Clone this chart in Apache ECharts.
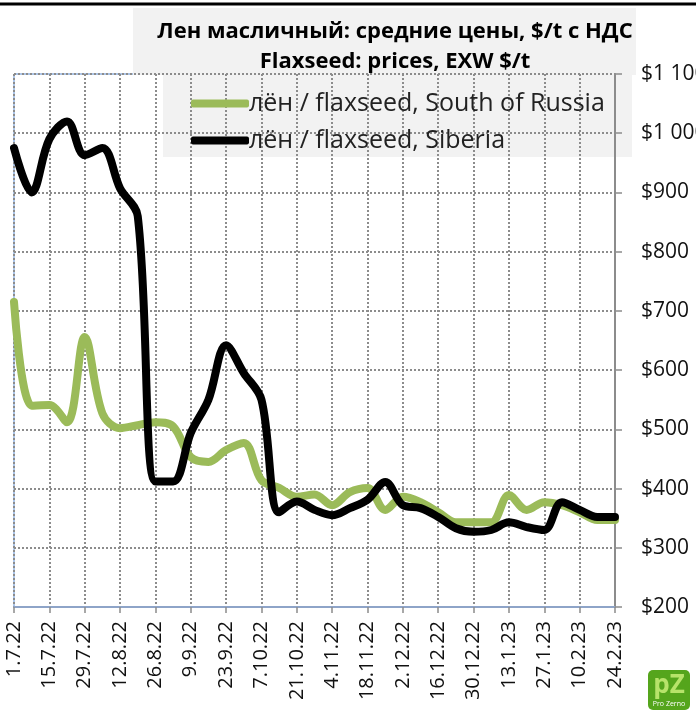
<!DOCTYPE html>
<html>
<head>
<meta charset="utf-8">
<script src="https://cdn.jsdelivr.net/npm/echarts@6/dist/echarts.min.js"></script>
<style>
  html, body { margin: 0; padding: 0; background: #fff; }
  #chart { width: 696px; height: 713px; }
</style>
</head>
<body>
<div id="chart"></div>
<script>
const categories = [
  '1.7.22', '8.7.22', '15.7.22', '22.7.22', '29.7.22', '5.8.22', '12.8.22', '19.8.22',
  '26.8.22', '2.9.22', '9.9.22', '16.9.22', '23.9.22', '30.9.22', '7.10.22', '14.10.22',
  '21.10.22', '28.10.22', '4.11.22', '11.11.22', '18.11.22', '25.11.22', '2.12.22', '9.12.22',
  '16.12.22', '23.12.22', '30.12.22', '6.1.23', '13.1.23', '20.1.23', '27.1.23', '3.2.23',
  '10.2.23', '17.2.23', '24.2.23'
]

const southRussia = [
  715, 540, 541, 512, 656, 527, 502, 507, 512, 505, 453, 445, 465, 477, 414, 401,
  386, 390, 372, 394, 401, 364, 386, 377, 360, 343, 343, 343, 389, 364, 377, 372,
  360, 347, 347
]

const siberia = [
  975, 900, 990, 1020, 963, 975, 907, 860, 412, 412, 494, 550, 642, 595, 550, 360,
  378, 364, 355, 367, 381, 411, 372, 367, 352, 333, 327, 330, 343, 335, 330, 377,
  364, 352, 352
]

const yTicks = { min: 200, max: 1100, step: 100 }

const chart = echarts.init(document.getElementById('chart'))

const formatPrice = (v) => {
  if (v >= 1000) {
    const s = String(v)
    return '$' + s.slice(0, s.length - 3) + ' ' + s.slice(-3)
  }
  return '$' + v
}

const option = {
  animation: false,
  textStyle: { fontFamily: 'Open Sans' },
  graphic: [
    { type: 'line', shape: { x1: 0, y1: 4, x2: 696, y2: 4 }, style: { stroke: '#000', lineWidth: 3 }, z: 0 },
    { type: 'rect', shape: { x: 133, y: 8, width: 503, height: 67 }, style: { fill: '#f2f2f2' }, z: 0 },
    { type: 'rect', shape: { x: 163, y: 75, width: 469, height: 82 }, style: { fill: '#f2f2f2' }, z: 0 },
    {
      type: 'group', left: 648, top: 670, z: 10,
      children: [
        { type: 'rect', shape: { x: 0, y: 0, width: 42, height: 40, r: 5 }, style: { fill: '#55a51c' } },
        { type: 'text', style: { x: 21, y: 16, text: 'pZ', fill: '#b7e36a', font: 'bold 26px "Open Sans"', align: 'center', verticalAlign: 'middle' } },
        { type: 'text', style: { x: 21, y: 34, text: 'Pro Zerno', fill: '#fff', font: '7px "Open Sans"', align: 'center', verticalAlign: 'middle' } }
      ]
    }
  ],
  title: {
    text: 'Лен масличный: средние цены, $/t с НДС\nFlaxseed: prices, EXW $/t',
    left: 390,
    top: 12,
    textAlign: 'center',
    textStyle: {
      fontFamily: 'Open Sans',
      fontSize: 22,
      fontWeight: 'bold',
      color: '#000',
      lineHeight: 30
    }
  },
  legend: {
    orient: 'vertical',
    left: 186,
    top: 86,
    itemWidth: 58,
    itemHeight: 8,
    itemGap: 12,
    icon: 'roundRect',
    textStyle: { fontFamily: 'Open Sans', fontSize: 25, color: '#222', padding: [0, 0, 0, -5] },
    data: ['лён / flaxseed, South of Russia', 'лён / flaxseed, Siberia']
  },
  grid: {
    left: 14,
    right: 81,
    top: 74,
    bottom: 106,
    outerBoundsMode: 'none',
    containLabel: false,
    show: true,
    borderColor: '#5b8bd0',
    borderWidth: 1
  },
  xAxis: {
    type: 'category',
    data: categories,
    boundaryGap: false,
    axisLine: { lineStyle: { color: '#8ea4c8', width: 2 } },
    axisTick: { interval: 1, length: 6, lineStyle: { color: '#8c8c8c', width: 1.5 } },
    axisLabel: {
      interval: 1,
      rotate: 90,
      margin: 14,
      fontSize: 20,
      color: '#111'
    },
    splitLine: {
      show: true,
      interval: 1,
      lineStyle: { color: '#8c8c8c', type: 'dotted', width: 2 }
    }
  },
  yAxis: {
    type: 'value',
    position: 'right',
    min: yTicks.min,
    max: yTicks.max,
    interval: yTicks.step,
    axisLine: { show: true, lineStyle: { color: '#8c8c8c', width: 2 } },
    axisTick: { show: true, length: 7, lineStyle: { color: '#8c8c8c', width: 1.5 } },
    axisLabel: {
      margin: 26,
      fontSize: 21,
      color: '#111',
      formatter: formatPrice
    },
    splitLine: {
      show: true,
      lineStyle: { color: '#8c8c8c', type: 'dotted', width: 2 }
    }
  },
  series: [
    {
      name: 'лён / flaxseed, South of Russia',
      type: 'line',
      data: southRussia,
      smooth: 0.35,
      symbol: 'none',
      itemStyle: { color: '#9bbb59' },
      lineStyle: { color: '#9bbb59', width: 8, cap: 'round', join: 'round' },
      z: 3
    },
    {
      name: 'лён / flaxseed, Siberia',
      type: 'line',
      data: siberia,
      smooth: 0.35,
      symbol: 'none',
      itemStyle: { color: '#000' },
      lineStyle: { color: '#000', width: 8, cap: 'round', join: 'round' },
      z: 4
    }
  ]
}

chart.setOption(option)
</script>
</body>
</html>
